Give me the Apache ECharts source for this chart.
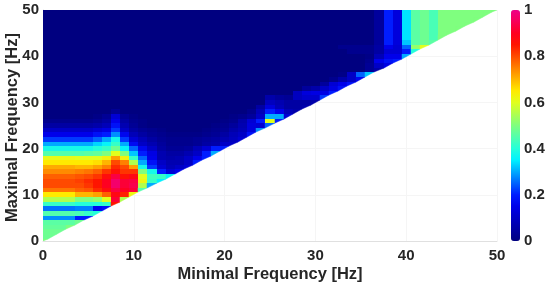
<!DOCTYPE html>
<html><head><meta charset="utf-8">
<script src="https://cdn.jsdelivr.net/npm/echarts@6/dist/echarts.min.js"></script>
<style>html,body{margin:0;padding:0;background:#fff}#c{width:550px;height:285px;filter:blur(0.6px)}</style>
</head><body><div id="c"></div>
<script>
const xTitle = 'Minimal Frequency [Hz]';
const yTitle = 'Maximal Frequency [Hz]';
const colorStops = ['#000080','#0000a3','#0000c6','#0000ea','#001cff','#0063ff','#00aaff','#00f1ff','#24ffda','#52ffad','#7fff7f','#b0ff4e','#e1ff1d','#ffea00','#ffb500','#ff8000','#ff4a00','#ff1500','#ff0021','#f80058','#ee0088'];
// rows[M][m]: value at maximal frequency M, minimal frequency m
const rows = [
[.5],
[.48,.48],
[.48,.48,.48],
[.47,.47,.47,.5],
[.46,.46,.46,.46,.48],
[.28,.28,.28,.28,.2,.2],
[.45,.45,.45,.45,.44,.42,.4],
[.26,.26,.26,.26,.27,.27,.16,.18],
[.42,.42,.42,.42,.4,.4,.4,.42,.85],
[.55,.55,.55,.55,.5,.5,.52,.6,.92,.55],
[.65,.65,.65,.65,.7,.7,.72,.78,.88,.84,.62],
[.76,.76,.76,.76,.78,.79,.83,.87,.93,.9,.92,.45],
[.8,.8,.8,.8,.8,.82,.85,.9,.97,.92,.94,.55,.3],
[.8,.8,.8,.8,.81,.83,.85,.9,.97,.92,.93,.62,.42,.35],
[.78,.78,.78,.78,.79,.8,.82,.87,.93,.86,.88,.6,.43,.42,.36],
[.74,.74,.74,.74,.75,.76,.78,.82,.86,.82,.82,.5,.38,.2,.12,.15],
[.71,.71,.71,.71,.7,.7,.72,.75,.83,.8,.72,.38,.22,.12,.08,.1,.12],
[.65,.65,.65,.65,.65,.65,.66,.7,.8,.75,.55,.3,.18,.1,.07,.07,.1,.2],
[.61,.61,.61,.61,.6,.6,.6,.63,.72,.63,.42,.25,.15,.07,.06,.07,.1,.15,.2],
[.45,.45,.45,.45,.45,.46,.47,.5,.6,.5,.32,.2,.14,.07,.05,.05,.07,.1,.2,.3],
[.38,.38,.38,.38,.38,.38,.4,.42,.48,.36,.25,.16,.1,.05,.03,.03,.04,.08,.12,.2,.2],
[.3,.3,.3,.3,.3,.3,.33,.36,.42,.3,.17,.1,.07,.04,.02,.02,.02,.03,.05,.06,.1,.1],
[.22,.22,.22,.22,.22,.22,.25,.3,.38,.22,.12,.08,.05,.03,.02,.02,.02,.03,.04,.05,.07,.09,.12],
[.15,.15,.15,.15,.15,.15,.18,.2,.28,.16,.08,.05,.03,.02,.01,.01,.01,.01,.02,.03,.05,.08,.1,.18],
[.1,.1,.1,.1,.1,.1,.12,.14,.22,.1,.05,.03,.02,.01,0,0,0,0,.01,.02,.03,.06,.08,.13,.28],
[.05,.05,.05,.05,.05,.05,.06,.08,.18,.07,.03,.01,0,0,0,0,0,0,0,.01,.02,.04,.07,.13,.12,.25],
[.02,.02,.02,.02,.02,.02,.03,.05,.15,.05,.02,.01,0,0,0,0,0,0,0,0,.01,.02,.06,.12,.2,.6,.2],
[0,0,0,0,0,0,.01,.03,.12,.03,.01,0,0,0,0,0,0,0,0,0,0,.01,.02,.04,.1,.3,.3,.12],
[0,0,0,0,0,0,0,0,.03,0,0,0,0,0,0,0,0,0,0,0,0,0,0,.02,.08,.2,.15,.08,.06],
[0,0,0,0,0,0,0,0,0,0,0,0,0,0,0,0,0,0,0,0,0,0,0,0,.05,.13,.08,.05,.05,.06],
[0,0,0,0,0,0,0,0,0,0,0,0,0,0,0,0,0,0,0,0,0,0,0,0,0,.09,.07,.05,.05,.05,.06],
[0,0,0,0,0,0,0,0,0,0,0,0,0,0,0,0,0,0,0,0,0,0,0,0,0,.06,.04,.03,.09,.11,.11,.22],
[0,0,0,0,0,0,0,0,0,0,0,0,0,0,0,0,0,0,0,0,0,0,0,0,0,0,0,0,.09,.13,.14,.14,.2],
[0,0,0,0,0,0,0,0,0,0,0,0,0,0,0,0,0,0,0,0,0,0,0,0,0,0,0,0,0,.04,.06,.1,.14,.18],
[0,0,0,0,0,0,0,0,0,0,0,0,0,0,0,0,0,0,0,0,0,0,0,0,0,0,0,0,0,0,0,.04,.12,.15,.18],
[0,0,0,0,0,0,0,0,0,0,0,0,0,0,0,0,0,0,0,0,0,0,0,0,0,0,0,0,0,0,0,0,.02,.06,.1,.16],
[0,0,0,0,0,0,0,0,0,0,0,0,0,0,0,0,0,0,0,0,0,0,0,0,0,0,0,0,0,0,0,0,0,.01,.1,.25,.32],
[0,0,0,0,0,0,0,0,0,0,0,0,0,0,0,0,0,0,0,0,0,0,0,0,0,0,0,0,0,0,0,0,0,0,0,0,.03,.06],
[0,0,0,0,0,0,0,0,0,0,0,0,0,0,0,0,0,0,0,0,0,0,0,0,0,0,0,0,0,0,0,0,0,0,0,0,.03,.1,.14],
[0,0,0,0,0,0,0,0,0,0,0,0,0,0,0,0,0,0,0,0,0,0,0,0,0,0,0,0,0,0,0,0,0,0,0,0,.02,.15,.18,.2],
[0,0,0,0,0,0,0,0,0,0,0,0,0,0,0,0,0,0,0,0,0,0,0,0,0,0,0,0,0,0,0,0,0,0,0,0,.01,.08,.15,.15,.3],
[0,0,0,0,0,0,0,0,0,0,0,0,0,0,0,0,0,0,0,0,0,0,0,0,0,0,0,0,0,0,0,0,0,0,.02,.02,.02,.05,.12,.12,.2,.4],
[0,0,0,0,0,0,0,0,0,0,0,0,0,0,0,0,0,0,0,0,0,0,0,0,0,0,0,0,0,0,0,0,0,.02,.02,.02,.02,.05,.15,.12,.25,.52,.6],
[0,0,0,0,0,0,0,0,0,0,0,0,0,0,0,0,0,0,0,0,0,0,0,0,0,0,0,0,0,0,0,0,0,0,0,0,0,.04,.2,.13,.32,.46,.48,.46],
[0,0,0,0,0,0,0,0,0,0,0,0,0,0,0,0,0,0,0,0,0,0,0,0,0,0,0,0,0,0,0,0,0,0,0,0,0,.04,.2,.13,.34,.46,.48,.44,.5],
[0,0,0,0,0,0,0,0,0,0,0,0,0,0,0,0,0,0,0,0,0,0,0,0,0,0,0,0,0,0,0,0,0,0,0,0,0,.04,.2,.13,.34,.46,.48,.44,.5,.5],
[0,0,0,0,0,0,0,0,0,0,0,0,0,0,0,0,0,0,0,0,0,0,0,0,0,0,0,0,0,0,0,0,0,0,0,0,0,.04,.2,.13,.34,.46,.48,.44,.5,.5,.5],
[0,0,0,0,0,0,0,0,0,0,0,0,0,0,0,0,0,0,0,0,0,0,0,0,0,0,0,0,0,0,0,0,0,0,0,0,0,.04,.2,.13,.34,.46,.48,.44,.5,.5,.5,.5],
[0,0,0,0,0,0,0,0,0,0,0,0,0,0,0,0,0,0,0,0,0,0,0,0,0,0,0,0,0,0,0,0,0,0,0,0,0,.04,.2,.13,.34,.46,.48,.44,.5,.5,.5,.5,.5],
[0,0,0,0,0,0,0,0,0,0,0,0,0,0,0,0,0,0,0,0,0,0,0,0,0,0,0,0,0,0,0,0,0,0,0,0,0,.04,.2,.13,.34,.46,.48,.44,.5,.5,.5,.5,.5,.5],
[0,0,0,0,0,0,0,0,0,0,0,0,0,0,0,0,0,0,0,0,0,0,0,0,0,0,0,0,0,0,0,0,0,0,0,0,0,.04,.2,.13,.34,.46,.48,.44,.5,.5,.5,.5,.5,.5,.5]
];

const cells = [];
rows.forEach((row, M) => row.forEach((v, m) => cells.push([m, M, v])));

const font = 'Liberation Sans';
const labelStyle = { color: '#262626', fontFamily: font, fontWeight: 'bold', fontSize: 15 };
const chart = echarts.init(document.getElementById('c'), null, { renderer: 'canvas' });
chart.setOption({
  animation: false,
  backgroundColor: '#fff',
  grid: [
    { left: 43, right: 53, top: 10, bottom: 44, outerBoundsMode: 'none', containLabel: false },
    { left: 511, width: 9, top: 10, bottom: 44, outerBoundsMode: 'none', containLabel: false }
  ],
  xAxis: [
    { type: 'value', gridIndex: 0, min: 0, max: 50, interval: 10,
      name: xTitle, nameLocation: 'middle', nameGap: 24.5, nameMoveOverlap: false,
      nameTextStyle: { color: '#262626', fontFamily: font, fontWeight: 'bold', fontSize: 16.5 },
      axisLine: { show: true, lineStyle: { color: '#e0e0e0', width: 1 } },
      axisTick: { show: false }, axisLabel: { ...labelStyle, margin: 7, showMinLabel: true, showMaxLabel: true },
      splitLine: { show: true, lineStyle: { color: '#f5f5f5', width: 1 } } },
    { type: 'value', gridIndex: 1, min: 0, max: 1, show: false }
  ],
  yAxis: [
    { type: 'value', gridIndex: 0, min: 0, max: 50, interval: 10,
      name: yTitle, nameLocation: 'middle', nameGap: 22, nameMoveOverlap: false,
      nameTextStyle: { color: '#262626', fontFamily: font, fontWeight: 'bold', fontSize: 16.5, padding: [0, 4, 0, 0] },
      axisLine: { show: true, lineStyle: { color: '#e0e0e0', width: 1 } },
      axisTick: { show: false }, axisLabel: { ...labelStyle, margin: 4 },
      splitLine: { show: true, lineStyle: { color: '#f5f5f5', width: 1 } } },
    { type: 'value', gridIndex: 1, min: 0, max: 1, interval: 0.2, position: 'right',
      axisLine: { show: false }, axisTick: { show: false },
      axisLabel: { ...labelStyle, margin: 4 }, splitLine: { show: false } }
  ],
  visualMap: {
    type: 'continuous', min: 0, max: 1, dimension: 2, seriesIndex: 0,
    calculable: false, realtime: false, hoverLink: false,
    left: 511, top: 10, itemWidth: 9, itemHeight: 231, padding: 0, text: null,
    inRange: { color: colorStops }
  },
  series: [{
    type: 'custom', xAxisIndex: 0, yAxisIndex: 0, clip: true,
    encode: { x: 0, y: 1 }, data: cells, silent: true,
    renderItem(params, api) {
      const m = api.value(0), M = api.value(1);
      const diagonal = m === M;
      const pts = diagonal
        ? [[m - .5, m - .5], [m - .5, m + .5], [m + .5, m + .5]]
        : [[m - .5, M - .5], [m - .5, M + .5], [m + .5, M + .5], [m + .5, M - .5]];
      const color = api.visual('color');
      return { type: 'polygon',
        shape: { points: pts.map(p => api.coord(p).map(Math.round)) },
        style: { fill: color, stroke: diagonal ? color : null, lineWidth: diagonal ? 0.5 : 0 } };
    }
  }]
});
</script></body></html>
